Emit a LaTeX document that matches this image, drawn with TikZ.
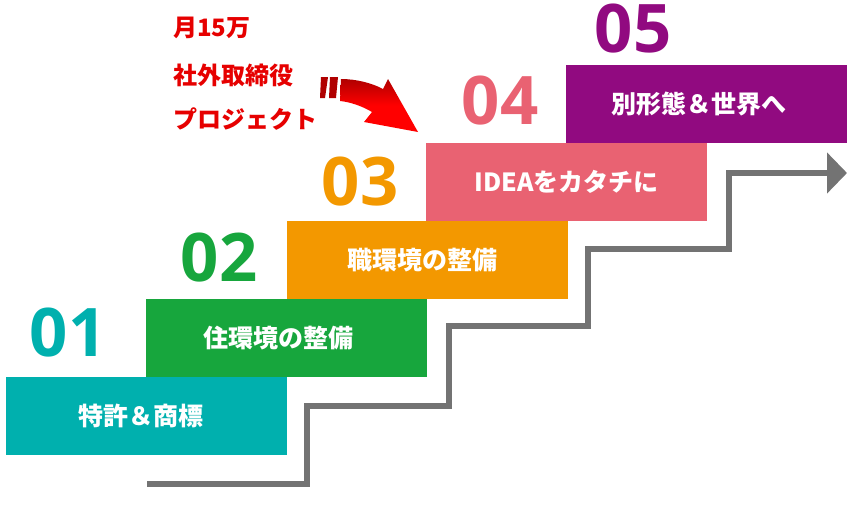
\documentclass[tikz,border=0pt]{standalone}
\usepackage{fontspec}
\setmainfont{Open Sans}
\newfontfamily\jpfont{Noto Sans CJK JP}
\usetikzlibrary{arrows.meta}
\definecolor{stepteal}{HTML}{00B0AE}
\definecolor{stepgreen}{HTML}{17A63D}
\definecolor{steporange}{HTML}{F39800}
\definecolor{steppink}{HTML}{E96272}
\definecolor{steppurple}{HTML}{910A80}
\definecolor{stairgray}{HTML}{737373}
\definecolor{memored}{HTML}{E60000}
\definecolor{arrowdark}{HTML}{B00000}
\begin{document}
\begin{tikzpicture}[
        x=1pt, y=-1pt,
        stepbox/.style={minimum width=281pt, minimum height=78pt, inner sep=0pt, text=white, font=\jpfont\bfseries\fontsize{25}{29}\selectfont},
        num/.style={inner sep=0pt, font=\bfseries\fontsize{67}{70}\selectfont},
        memo/.style={anchor=west, inner sep=0pt, text=memored, font=\jpfont\bfseries\fontsize{24}{28}\selectfont},
        stair/.style={draw=stairgray, line width=6.5pt, -{Triangle[length=20pt,width=40pt]}}
      ]
        \useasboundingbox (0,0) rectangle (868,504);

        \node (b1) at (146.5, 416) [stepbox, fill=stepteal]   {\hspace*{-12pt}特許＆商標};
        \node (b2) at (286.5, 338) [stepbox, fill=stepgreen]  {\hspace*{-16pt}住環境の整備};
        \node (b3) at (427, 260)   [stepbox, fill=steporange] {\hspace*{-10pt}職環境の整備};
        \node (b4) at (566.5, 182) [stepbox, fill=steppink]   {IDEAをカタチに};
        \node (b5) at (706, 104)   [stepbox, fill=steppurple] {\hspace*{-14pt}別形態＆世界へ};

        \node (n1) at (68, 333)  [num, text=stepteal]   {01};
        \node (n2) at (219, 258) [num, text=stepgreen]  {02};
        \node (n3) at (360, 182) [num, text=steporange] {03};
        \node (n4) at (500, 101) [num, text=steppink]   {04};
        \node (n5) at (633, 29)  [num, text=steppurple] {05};

        \node (m1) at (173, 28)  [memo] {月15万};
        \node (m2) at (173, 75)  [memo] {社外取締役};
        \node (m3) at (173, 119) [memo] {プロジェクト};

        % red arrow
        \fill [arrowdark] (321,77) -- (328,77) -- (325,98) -- (320,98) -- cycle;
        \fill [arrowdark] (330,77) -- (338,77) -- (336,98) -- (329,98) -- cycle;
        \shade [top color=arrowdark, bottom color=red, middle color=red]
          (341,79) .. controls (356,79) and (372,83) .. (383,89) -- (388,79) -- (418,132)
          -- (364,122) -- (372,112) .. controls (362,106) and (350,102) .. (340,101) -- cycle;

        % stairs
        \draw [stair] (147,484) -| (307,406) -| (449,326) -| (588,249) -| (729,173) -- (847,173);
      \end{tikzpicture}
\end{document}
